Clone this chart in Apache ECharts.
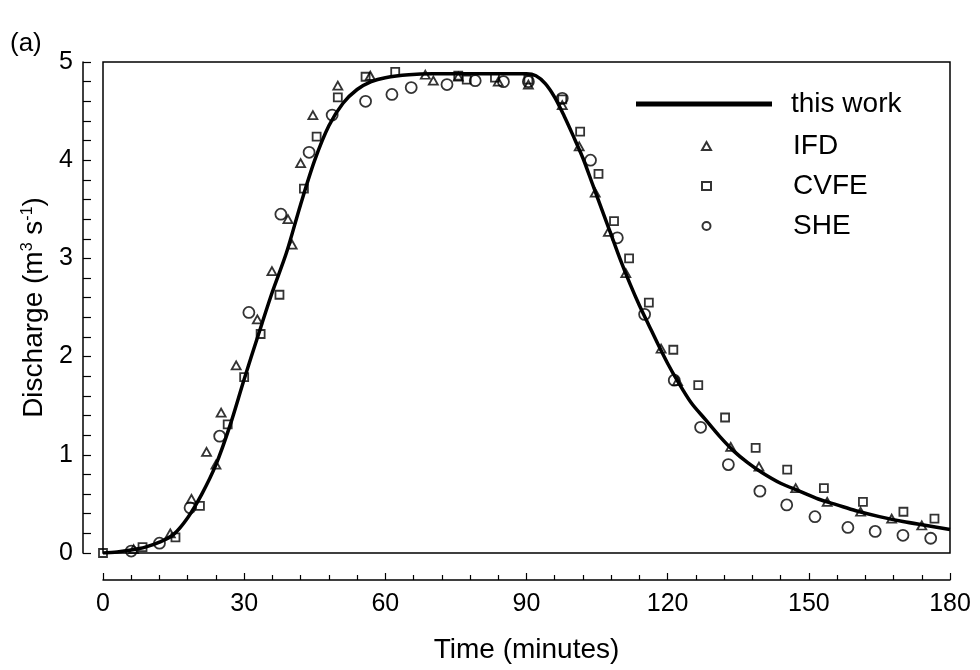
<!DOCTYPE html>
<html>
<head>
<meta charset="utf-8">
<script src="https://cdn.jsdelivr.net/npm/echarts@6/dist/echarts.min.js"></script>
<style>
html,body{margin:0;padding:0;background:#fff;}
#chart{width:980px;height:670px;}
</style>
</head>
<body>
<div id="chart"></div>
<script>
// "this work" model curve: [time (min), discharge]
const thisWork = [
  [0,0.0],[3,0.01],[6,0.03],[9,0.06],[12,0.11],[15,0.19],[18,0.36],[21,0.6],[24,0.9],
  [27,1.3],[30,1.77],[33,2.22],[36,2.66],[39,3.06],[42,3.55],[45,4.0],[48,4.35],[51,4.58],
  [54,4.72],[57,4.8],[60,4.84],[65,4.87],[70,4.88],[80,4.88],[90,4.88],[92,4.86],[94,4.78],
  [96,4.64],[98,4.45],[100,4.24],[102,4.02],[104,3.76],[106,3.5],[108,3.24],[110,2.98],
  [112,2.74],[114,2.52],[116,2.32],[118,2.12],[120,1.93],[122,1.76],[125,1.53],[128,1.36],
  [131,1.19],[134,1.04],[137,0.92],[140,0.82],[144,0.71],[148,0.63],[152,0.55],[156,0.49],
  [160,0.43],[165,0.37],[170,0.32],[175,0.28],[180,0.24]
];
// IFD (triangles)
const ifd = [
  [6.5,0.04],[14.3,0.2],[18.8,0.55],[22,1.03],[24,0.9],[25.1,1.43],[28.3,1.91],[32.8,2.38],
  [35.9,2.87],[39.3,3.4],[40.2,3.14],[42,3.97],[44.6,4.46],[49.9,4.76],[56.8,4.86],[68.5,4.87],
  [70.2,4.81],[75.5,4.85],[84,4.8],[90.4,4.77],[97.6,4.56],[101.2,4.14],[104.6,3.67],
  [107.4,3.27],[111.1,2.85],[118.6,2.08],[122.1,1.75],[133.4,1.08],[139.4,0.88],[147.2,0.66],
  [153.9,0.52],[161,0.42],[167.6,0.35],[174,0.28]
];
// CVFE (squares)
const cvfe = [
  [0,0.0],[8.4,0.06],[15.4,0.16],[20.6,0.48],[26.5,1.31],[30,1.79],[33.5,2.23],[37.5,2.63],
  [42.7,3.71],[45.4,4.24],[49.9,4.64],[55.8,4.85],[62.1,4.9],[75.5,4.86],[77.3,4.82],
  [83.3,4.84],[90.4,4.82],[97.6,4.62],[101.4,4.29],[105.3,3.86],[108.6,3.38],[111.8,3.0],
  [116,2.55],[121.2,2.07],[126.5,1.71],[132.2,1.38],[138.7,1.07],[145.4,0.85],[153.2,0.66],
  [161.5,0.52],[170.1,0.42],[176.7,0.35]
];
// SHE (circles)
const she = [
  [6,0.02],[12,0.1],[18.5,0.46],[24.8,1.19],[31,2.45],[37.8,3.45],[43.8,4.08],[48.7,4.46],
  [55.8,4.6],[61.4,4.67],[65.5,4.74],[73.1,4.77],[79.1,4.81],[85.1,4.8],[90.4,4.8],[97.6,4.63],
  [103.6,4.0],[109.3,3.21],[115.1,2.43],[121.4,1.76],[127,1.28],[132.9,0.9],[139.6,0.63],
  [145.3,0.49],[151.3,0.37],[158.3,0.26],[164.1,0.22],[170,0.18],[175.9,0.15]
];
const seriesNames = ['this work','IFD','CVFE','SHE'];
const xTicks = [0,30,60,90,120,150,180];
const yTicks = [0,1,2,3,4,5];

const FONT = 'Liberation Sans, Arial, Helvetica, sans-serif';
const chart = echarts.init(document.getElementById('chart'));
const markerStyle = {color:'rgba(255,255,255,0)', borderColor:'#000', borderWidth:1.8};
const legendText = {fontSize:28, color:'#000', fontFamily:FONT};

chart.setOption({
  backgroundColor:'#fff',
  animation:false,
  textStyle:{fontFamily:FONT, color:'#000'},
  graphic:[{type:'text', left:10, top:31, style:{text:'(a)', font:'26px '+FONT, fill:'#000'}}],
  grid:{left:103, right:30, top:62, bottom:117, show:true, borderColor:'#000', borderWidth:1.5, containLabel:false},
  xAxis:{
    type:'value', min:xTicks[0], max:xTicks[xTicks.length-1], interval:30,
    offset:27,
    name:'Time (minutes)', nameLocation:'middle', nameGap:56,
    nameTextStyle:{fontSize:28, color:'#000', fontFamily:FONT},
    axisLine:{show:true, onZero:false, lineStyle:{color:'#000', width:1.5}},
    axisTick:{show:true, inside:true, length:7, lineStyle:{color:'#000', width:1.2}},
    minorTick:{show:true, splitNumber:5, length:5, lineStyle:{color:'#000', width:1.2}},
    axisLabel:{fontSize:25, color:'#000', margin:12, fontFamily:FONT},
    splitLine:{show:false}
  },
  yAxis:{
    type:'value', min:yTicks[0], max:yTicks[yTicks.length-1], interval:1,
    offset:20,
    name:'Discharge (m{sup|3} s{sup|-1})', nameLocation:'middle', nameGap:34,
    nameTextStyle:{fontSize:28, color:'#000', fontFamily:FONT,
      rich:{sup:{fontSize:16, verticalAlign:'top', padding:[0,0,13,0], fontFamily:FONT, color:'#000'}}},
    axisLine:{show:true, onZero:false, lineStyle:{color:'#000', width:1.5}},
    axisTick:{show:true, inside:true, length:8, lineStyle:{color:'#000', width:1.2}},
    minorTick:{show:true, splitNumber:5, length:8, lineStyle:{color:'#000', width:1.2}},
    axisLabel:{fontSize:25, color:'#000', margin:10, fontFamily:FONT},
    splitLine:{show:false}
  },
  legend:[
    {
      orient:'vertical', left:636, top:90, padding:0,
      itemWidth:136, itemHeight:5,
      data:[{name:seriesNames[0], icon:'rect'}],
      textStyle:Object.assign({padding:[0,0,0,14]}, legendText)
    },
    {
      orient:'vertical', left:701, top:132, padding:0, itemGap:12,
      itemWidth:9, itemHeight:8,
      data:[seriesNames[1], seriesNames[2], seriesNames[3]],
      textStyle:Object.assign({padding:[0,0,0,77]}, legendText)
    }
  ],
  series:[
    {name:seriesNames[0], type:'line', data:thisWork, smooth:0.3, symbol:'none',
     lineStyle:{color:'#000', width:3.5}, itemStyle:{color:'#000'}, z:3},
    {name:seriesNames[1], type:'scatter', data:ifd, symbol:'triangle', symbolSize:[9,8],
     itemStyle:markerStyle, z:4},
    {name:seriesNames[2], type:'scatter', data:cvfe, symbol:'rect', symbolSize:8,
     itemStyle:markerStyle, z:4},
    {name:seriesNames[3], type:'scatter', data:she, symbol:'circle', symbolSize:11,
     itemStyle:markerStyle, z:4}
  ]
});
</script>
</body>
</html>
